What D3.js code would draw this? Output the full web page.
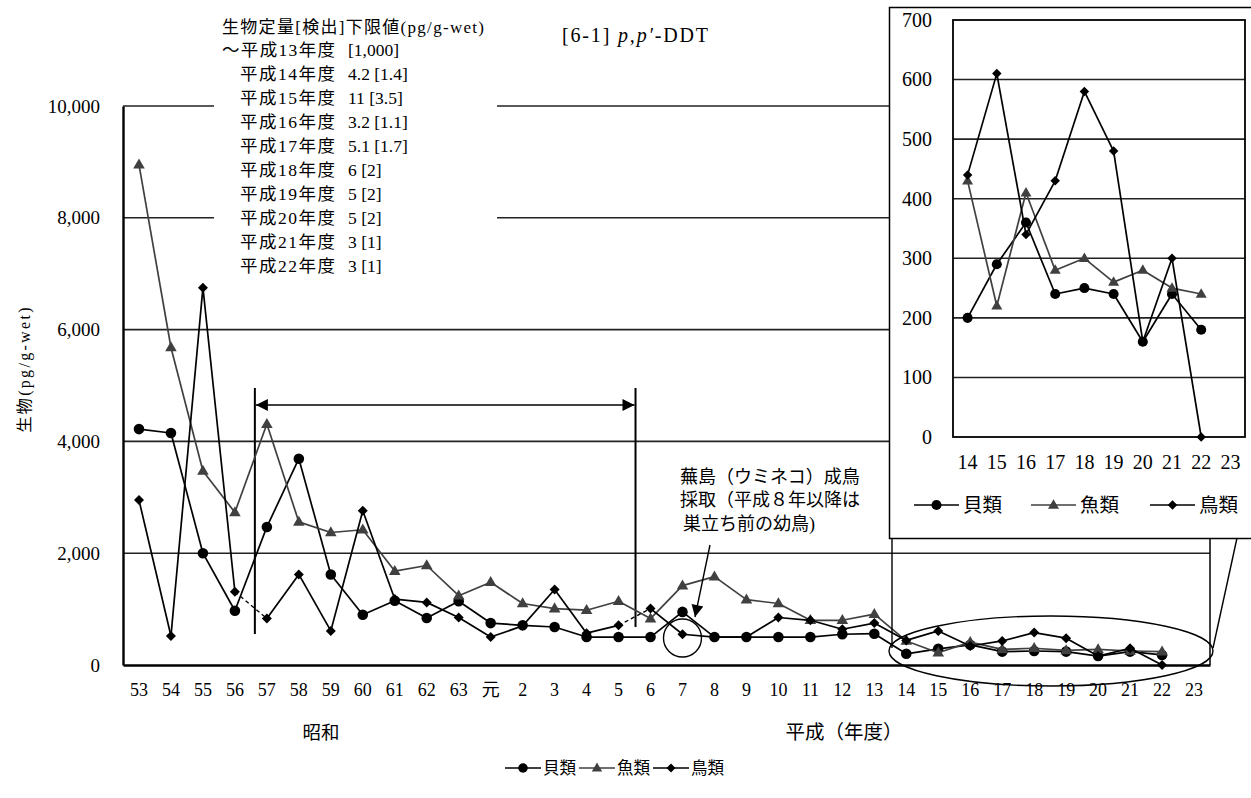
<!DOCTYPE html>
<html><head><meta charset="utf-8">
<script src="https://cdn.jsdelivr.net/npm/d3@7"></script>
<style>
html,body{margin:0;padding:0;background:#fff;}
svg{display:block;}
text{font-family:"Liberation Serif","Noto Sans CJK JP",serif;fill:#000;}
</style></head><body>
<svg id="c" width="1251" height="798"></svg>
<script>
const categories = ["53","54","55","56","57","58","59","60","61","62","63","元","2","3","4","5","6","7","8","9","10","11","12","13","14","15","16","17","18","19","20","21","22","23"];
const shellfish = [4220,4150,2000,970,2470,3690,1620,900,1150,840,1140,750,710,680,500,500,500,950,500,500,500,500,550,560,200,290,360,240,250,240,160,240,180,null];
const fish = [8950,5680,3470,2730,4310,2560,2370,2420,1680,1780,1240,1480,1100,1010,980,1140,830,1420,1580,1170,1100,800,800,910,430,220,410,280,300,260,280,250,240,null];
const birds = [2950,520,6750,1310,830,1620,610,2760,1180,1120,850,500,700,1350,570,710,1010,550,500,500,850,800,640,750,440,610,340,430,580,480,160,300,0,null];
const birdDashedFrom = ["56","5"];
const yTicks = [0,2000,4000,6000,8000,10000];
const insetCategories = ["14","15","16","17","18","19","20","21","22","23"];
const insetTicks = [0,100,200,300,400,500,600,700];
const seriesNames = ["貝類","魚類","鳥類"];
const limitHeader = "生物定量[検出]下限値(pg/g-wet)";
const limitYears = ["〜平成13年度","平成14年度","平成15年度","平成16年度","平成17年度","平成18年度","平成19年度","平成20年度","平成21年度","平成22年度"];
const limitValues = ["[1,000]","4.2 [1.4]","11 [3.5]","3.2 [1.1]","5.1 [1.7]","6 [2]","5 [2]","5 [2]","3 [1]","3 [1]"];
const noteLines = ["蕪島（ウミネコ）成鳥","採取（平成８年以降は","巣立ち前の幼鳥)"];

const svg = d3.select("#c");
const fmt = d3.format(",");

const series = [
  {name:seriesNames[0], values:shellfish, color:"#000", shape:"circle"},
  {name:seriesNames[1], values:fish, color:"#404040", shape:"triangle"},
  {name:seriesNames[2], values:birds, color:"#000", shape:"diamond", dashed:birdDashedFrom}
];

function marker(g, shape, x, y, color, scale){
  scale = scale||1;
  if(shape==="circle"){
    g.append("circle").attr("cx",x).attr("cy",y).attr("r",5.3*scale).attr("fill",color);
  } else if(shape==="triangle"){
    g.append("path").attr("d",d3.symbol(d3.symbolTriangle, 58*scale*scale)()).attr("transform",`translate(${x},${y+0.5})`).attr("fill",color);
  } else {
    g.append("path").attr("d",d3.symbol(d3.symbolSquare, 50*scale*scale)()).attr("transform",`translate(${x},${y}) rotate(45)`).attr("fill",color);
  }
}

// ---------- main chart ----------
const x = d3.scaleBand().domain(categories).range([123,1210]).padding(0);
const y = d3.scaleLinear().domain([0,10000]).range([665,106]);
const cx = c => x(c)+x.bandwidth()/2;

const main = svg.append("g");
main.append("g").selectAll("line").data(yTicks.filter(d=>d>0)).join("line")
  .attr("x1",123).attr("x2",1210).attr("y1",d=>y(d)).attr("y2",d=>y(d))
  .attr("stroke","#222").attr("stroke-width",1.6);
main.append("line").attr("x1",1210).attr("x2",1210).attr("y1",y(10000)).attr("y2",y(0)).attr("stroke","#000").attr("stroke-width",1.5);
const yAxis = d3.axisLeft(y).tickValues(yTicks).tickFormat(fmt).tickSize(0).tickPadding(23);
const yg = main.append("g").attr("transform","translate(123,0)").call(yAxis);
yg.select(".domain").attr("stroke","#000").attr("stroke-width",2.4);
yg.selectAll("text").attr("font-size",19).attr("font-family","Liberation Serif").attr("dy","0.32em");
const xAxis = d3.axisBottom(x).tickSize(0).tickPadding(18);
const xg = main.append("g").attr("transform","translate(0,665)").call(xAxis);
xg.select(".domain").attr("stroke","#000").attr("stroke-width",2.6);
xg.selectAll("text").attr("font-size",18).attr("dy","0.71em");

// y title
main.append("text").attr("transform","translate(30,370) rotate(-90)").attr("text-anchor","middle")
  .attr("font-size",16).attr("textLength",125).attr("lengthAdjust","spacing").text("生物(pg/g-wet)");
// era labels
main.append("text").attr("x",321).attr("y",739).attr("text-anchor","middle").attr("font-size",18.5).text("昭和");
main.append("text").attr("x",844).attr("y",739).attr("text-anchor","middle").attr("font-size",19.5).text("平成（年度）");

// title
const title = main.append("text").attr("x",562).attr("y",42).attr("font-size",20).attr("textLength",146).attr("lengthAdjust","spacing");
title.append("tspan").text("[6-1] ");
title.append("tspan").attr("font-style","italic").text("p,p′");
title.append("tspan").text("-DDT");

// period bracket arrow
const defs = svg.append("defs");
defs.append("marker").attr("id","ah").attr("viewBox","0 0 10 10").attr("refX",10).attr("refY",5)
  .attr("markerWidth",14).attr("markerHeight",12).attr("markerUnits","userSpaceOnUse").attr("orient","auto-start-reverse")
  .append("path").attr("d","M0,0 L10,5 L0,10 Z").attr("fill","#000");
main.append("line").attr("x1",cx("57")-12).attr("x2",cx("57")-12).attr("y1",388).attr("y2",634).attr("stroke","#000").attr("stroke-width",2);
main.append("line").attr("x1",cx("6")-15).attr("x2",cx("6")-15).attr("y1",388).attr("y2",627).attr("stroke","#000").attr("stroke-width",2);
main.append("line").attr("x1",cx("57")-11).attr("x2",cx("6")-16).attr("y1",405).attr("y2",405)
  .attr("stroke","#000").attr("stroke-width",1.6).attr("marker-start","url(#ah)").attr("marker-end","url(#ah)");

function drawSeries(g, xs, ys, cats, vals, s, sc, lw){
  for(let i=0;i<cats.length-1;i++){
    const a=vals[i], b=vals[i+1];
    if(a==null||b==null) continue;
    const dashed = s.dashed && s.dashed.includes(cats[i]);
    g.append("path").attr("d",d3.line()([[xs(cats[i]),ys(a)],[xs(cats[i+1]),ys(b)]]))
      .attr("stroke",s.color).attr("stroke-width",dashed?1.3:lw).attr("fill","none")
      .attr("stroke-dasharray",dashed?"4,3":null);
  }
  cats.forEach((c,i)=>{ if(vals[i]!=null) marker(g, s.shape, xs(c), ys(vals[i]), s.color, sc); });
}
const sg = main.append("g");
series.forEach(s=>drawSeries(sg, cx, y, categories, s.values, s, 1, 1.7));

main.append("circle").attr("cx",cx("7")).attr("cy",638).attr("r",19).attr("fill","none").attr("stroke","#000").attr("stroke-width",1.4);
main.append("ellipse").attr("cx",1051).attr("cy",651).attr("rx",162).attr("ry",35).attr("fill","none").attr("stroke","#000").attr("stroke-width",1.4);

// note text + arrow
const note = main.append("g");
noteLines.forEach((t,i)=>note.append("text").attr("x",i===2?683:680).attr("y",483+i*23.3).attr("font-size",18).text(t));
defs.append("marker").attr("id","ah2").attr("viewBox","0 0 10 10").attr("refX",10).attr("refY",5)
  .attr("markerWidth",14).attr("markerHeight",12).attr("markerUnits","userSpaceOnUse").attr("orient","auto")
  .append("path").attr("d","M0,0 L10,5 L0,10 Z").attr("fill","#000");
main.append("line").attr("x1",710).attr("y1",545).attr("x2",695).attr("y2",617)
  .attr("stroke","#000").attr("stroke-width",1.4).attr("marker-end","url(#ah2)");

// detection limit text box
const box = main.append("g");
box.append("rect").attr("x",214).attr("y",12).attr("width",283).attr("height",268).attr("fill","#fff");
box.append("text").attr("x",222).attr("y",32.5).attr("font-size",17).attr("textLength",262).attr("lengthAdjust","spacing").text(limitHeader);
limitYears.forEach((t,i)=>{
  const yy = 32.5+(i+1)*23.9;
  box.append("text").attr("x",i===0?222:240).attr("y",yy).attr("font-size",17.5)
    .attr("textLength",i===0?113:95).attr("lengthAdjust","spacing").text(t);
  box.append("text").attr("x",348).attr("y",yy).attr("font-size",17.5).text(limitValues[i]);
});

// connectors
main.append("line").attr("x1",892).attr("y1",538).attr("x2",892).attr("y2",648).attr("stroke","#000").attr("stroke-width",1.4);
main.append("line").attr("x1",1237).attr("y1",538).attr("x2",1213).attr("y2",648).attr("stroke","#000").attr("stroke-width",1.4);

// bottom legend
const leg = main.append("g");
const legX = [505,579,653];
series.forEach((s,i)=>{
  leg.append("line").attr("x1",legX[i]).attr("x2",legX[i]+36).attr("y1",768).attr("y2",768).attr("stroke",s.color).attr("stroke-width",1.7);
  marker(leg, s.shape, legX[i]+18, 768, s.color, 0.9);
  leg.append("text").attr("x",legX[i]+38).attr("y",774).attr("font-size",16.5).text(s.name);
});

// ---------- inset ----------
const inset = svg.append("g");
inset.append("rect").attr("x",889.5).attr("y",7.5).attr("width",370).attr("height",531).attr("fill","#fff").attr("stroke","#000").attr("stroke-width",1.5);
const xi = d3.scaleBand().domain(insetCategories).range([953,1245]).padding(0);
const yi = d3.scaleLinear().domain([0,700]).range([437,20]);
const cxi = c => xi(c)+xi.bandwidth()/2;
inset.append("g").selectAll("line").data(insetTicks.filter(d=>d>0&&d<700)).join("line")
  .attr("x1",953).attr("x2",1245).attr("y1",d=>yi(d)).attr("y2",d=>yi(d)).attr("stroke","#222").attr("stroke-width",1.6);
inset.append("rect").attr("x",953).attr("y",yi(700)).attr("width",292).attr("height",yi(0)-yi(700)).attr("fill","none").attr("stroke","#000").attr("stroke-width",1.8);
const yig = inset.append("g").attr("transform","translate(953,0)").call(d3.axisLeft(yi).tickValues(insetTicks).tickSize(0).tickPadding(21));
yig.select(".domain").remove();
yig.selectAll("text").attr("font-size",20).attr("dy","0.32em");
const xig = inset.append("g").attr("transform","translate(0,437)").call(d3.axisBottom(xi).tickSize(0).tickPadding(18));
xig.select(".domain").remove();
xig.selectAll("text").attr("font-size",20).attr("dy","0.71em");
const insetSeries = series.map(s=>({...s, dashed:null, values:insetCategories.map(c=>s.values[categories.indexOf(c)])}));
const isg = inset.append("g");
insetSeries.forEach(s=>drawSeries(isg, cxi, yi, insetCategories, s.values, s, 0.95, 1.7));
const ilX = [914,1031,1150];
insetSeries.forEach((s,i)=>{
  inset.append("line").attr("x1",ilX[i]).attr("x2",ilX[i]+45).attr("y1",505).attr("y2",505).attr("stroke",s.color).attr("stroke-width",1.7);
  marker(inset, s.shape, ilX[i]+22.5, 505, s.color, 0.95);
  inset.append("text").attr("x",ilX[i]+49).attr("y",512).attr("font-size",19.5).text(s.name);
});
</script>
</body></html>
